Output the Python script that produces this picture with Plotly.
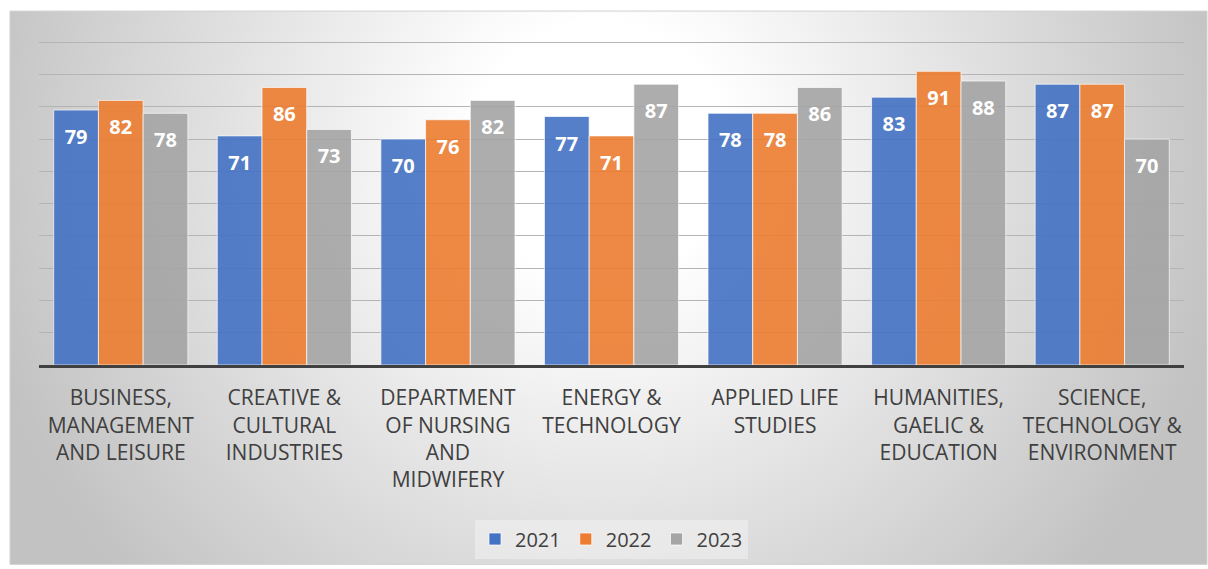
import base64
import plotly.graph_objects as go

categories = [
    "BUSINESS, MANAGEMENT AND LEISURE",
    "CREATIVE & CULTURAL INDUSTRIES",
    "DEPARTMENT OF NURSING AND MIDWIFERY",
    "ENERGY & TECHNOLOGY",
    "APPLIED LIFE STUDIES",
    "HUMANITIES, GAELIC & EDUCATION",
    "SCIENCE, TECHNOLOGY & ENVIRONMENT",
]
tick_labels = [
    "BUSINESS,<br>MANAGEMENT<br>AND LEISURE",
    "CREATIVE &<br>CULTURAL<br>INDUSTRIES",
    "DEPARTMENT<br>OF NURSING<br>AND<br>MIDWIFERY",
    "ENERGY &<br>TECHNOLOGY",
    "APPLIED LIFE<br>STUDIES",
    "HUMANITIES,<br>GAELIC &<br>EDUCATION",
    "SCIENCE,<br>TECHNOLOGY &<br>ENVIRONMENT",
]
series_names = ["2021", "2022", "2023"]
values_2021 = [79, 71, 70, 77, 78, 83, 87]
values_2022 = [82, 86, 76, 71, 78, 91, 87]
values_2023 = [78, 73, 82, 87, 86, 88, 70]
series_values = [values_2021, values_2022, values_2023]
colors = ["#4472C4", "#ED7D31", "#A5A5A5"]

W, H = 1208, 569
L, R, T, B = 39, 24, 41, 203
PW, PH = W - L - R, H - T - B
box_x0, box_y0, box_x1, box_y1 = 10, 11, 1207, 566
bw, bh = box_x1 - box_x0, box_y1 - box_y0

svg = f"""<svg xmlns='http://www.w3.org/2000/svg' width='{bw}' height='{bh}' viewBox='0 0 {bw} {bh}' preserveAspectRatio='none'>
<defs><radialGradient id='g' gradientUnits='userSpaceOnUse' cx='590' cy='140' r='640'>
<stop offset='0.2' stop-color='#ffffff'/><stop offset='1' stop-color='#c2c2c2'/>
</radialGradient></defs>
<rect x='0' y='0' width='{bw}' height='{bh}' fill='url(#g)'/>
</svg>"""
src = "data:image/svg+xml;base64," + base64.b64encode(svg.encode()).decode()

fig = go.Figure()
for name, vals, col in zip(series_names, series_values, colors):
    fig.add_trace(go.Bar(
        name=name, x=categories, y=vals,
        marker=dict(color=col, opacity=0.9, line=dict(color="rgba(255,255,255,0.7)", width=1)),
        texttemplate="<span style='font-size:5px'>\u00a0</span><br>%{y}",
        textposition="inside", insidetextanchor="end",
        textfont=dict(family="Open Sans", size=20, color="white", weight="bold"),
        constraintext="none",
        hoverinfo="skip",
    ))

px = lambda x: (x - L) / PW
py = lambda y: (H - B - y) / PH

fig.add_layout_image(dict(
    source=src, xref="paper", yref="paper",
    x=px(box_x0), y=py(box_y0), sizex=bw / PW, sizey=bh / PH,
    xanchor="left", yanchor="top", sizing="stretch", layer="below",
))
fig.add_shape(type="rect", xref="paper", yref="paper",
              x0=px(box_x0), x1=px(box_x1), y0=py(box_y0), y1=py(box_y1),
              line=dict(color="#d0d0d0", width=1), layer="below")

fig.update_layout(
    width=W, height=H,
    margin=dict(l=L, r=R, t=T, b=B, pad=0),
    paper_bgcolor="white", plot_bgcolor="rgba(0,0,0,0)",
    barmode="group", bargap=0.18, bargroupgap=0,
    font=dict(family="Open Sans", color="#404040"),
    showlegend=True,
    legend=dict(orientation="h", x=0.5, xanchor="center", y=py(539), yanchor="middle",
                font=dict(size=20, color="#404040"), bgcolor="rgba(240,240,240,0.6)",
                itemwidth=30, traceorder="normal"),
    xaxis=dict(tickmode="array", tickvals=categories, ticktext=tick_labels,
               tickfont=dict(size=21, color="#404040"), showline=True,
               linecolor="#404040", linewidth=3, ticks="", showgrid=False,
               ticklabelstandoff=12),
    yaxis=dict(range=[0, 100.4], tick0=0, dtick=10, showticklabels=False, showgrid=True,
               gridcolor="#b4b4b4", gridwidth=1, zeroline=False, ticks=""),
)
fig.write_html("out.html", config={"displayModeBar": False},
               post_script="document.body.style.margin='0';")
